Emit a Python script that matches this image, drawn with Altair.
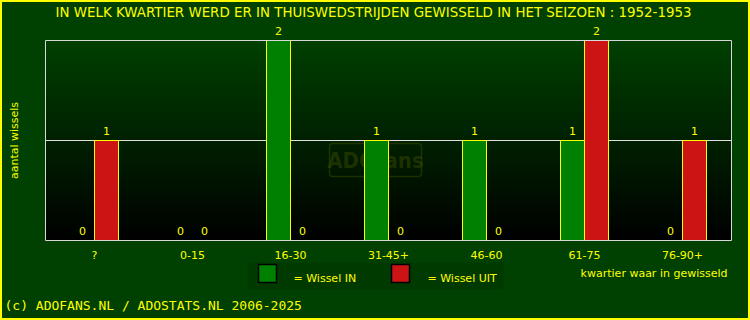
import altair as alt
import pandas as pd

categories = ["?", "0-15", "16-30", "31-45+", "46-60", "61-75", "76-90+"]
wissel_in = [0, 0, 2, 1, 1, 1, 0]
wissel_uit = [1, 0, 0, 0, 0, 2, 1]
series_names = ["IN", "UIT"]
y_ticks = [0, 1, 2]

rows = []
for c, a, b in zip(categories, wissel_in, wissel_uit):
    rows.append({"kwartier": c, "series": "IN", "value": a})
    rows.append({"kwartier": c, "series": "UIT", "value": b})
df = pd.DataFrame(rows)

W, H = 686, 200
YEL = "#ffff00"
FONT = "DejaVu Sans"

x_enc = alt.X("kwartier:N", sort=categories,
              scale=alt.Scale(paddingInner=0, paddingOuter=0),
              axis=alt.Axis(title=None, labelColor=YEL, labelFontSize=11, labelFont=FONT,
                            ticks=False, domain=False, labelPadding=9, labelAngle=0))
y_scale = alt.Scale(domain=[0, 2], nice=False)
y_enc = alt.Y("value:Q", scale=y_scale,
              axis=alt.Axis(title=None, values=y_ticks, format="d", labelColor=YEL,
                            labelFontSize=11, labelFont=FONT, ticks=False, domain=False,
                            grid=False, labelPadding=10))
xo = alt.XOffset("series:N", scale=alt.Scale(domain=["_a"] + series_names + ["_b"],
                                             paddingInner=0, paddingOuter=0.0417))

base = alt.Chart(df)

one = pd.DataFrame({"a": [0]})

frame = alt.Chart(one).mark_rect(
    fill=None, stroke=YEL, strokeWidth=2
).encode(x=alt.value(-44.5), x2=alt.value(703.5), y=alt.value(-39.5), y2=alt.value(278.5))

grad = alt.Chart(one).mark_rect(
    color=alt.Gradient(gradient="linear", x1=0, y1=0, x2=0, y2=1,
                       stops=[alt.GradientStop(color="#004000", offset=0),
                              alt.GradientStop(color="#000000", offset=1)])
).encode(x=alt.value(0), x2=alt.value(W), y=alt.value(0), y2=alt.value(H))

wm_box = alt.Chart(one).mark_rect(
    fill=None, stroke="#3a4a00", strokeWidth=1.5, cornerRadius=3, opacity=0.5
).encode(x=alt.value(284), x2=alt.value(376), y=alt.value(103), y2=alt.value(136))
wm_text = alt.Chart(pd.DataFrame({"t": ["ADOfans"]})).mark_text(
    font="DejaVu Sans Condensed", fontWeight="bold", fontSize=22, color="#3a4a00",
    opacity=0.5, align="center", baseline="middle"
).encode(x=alt.value(330), y=alt.value(120), text="t:N")

grid = alt.Chart(pd.DataFrame({"v": [1]})).mark_rule(color="#e0e0e0", strokeWidth=1).encode(
    y=alt.Y("v:Q", scale=y_scale, axis=None))

bars = base.transform_filter("datum.value > 0").mark_bar(stroke=YEL, strokeWidth=1, opacity=1).encode(
    x=x_enc, y=y_enc, xOffset=xo,
    color=alt.Color("series:N", scale=alt.Scale(domain=series_names,
                                                range=["#008000", "#cc1414"]), legend=None))

labels = base.mark_text(color=YEL, fontSize=11, font=FONT, baseline="bottom", dy=-4).encode(
    x=x_enc, y=y_enc, xOffset=xo, text=alt.Text("value:Q", format="d"))

border = alt.Chart(one).mark_rect(
    fill=None, stroke="#d8d8d8", strokeWidth=1
).encode(x=alt.value(0), x2=alt.value(W), y=alt.value(0), y2=alt.value(H))

title = alt.Chart(pd.DataFrame({"t": [
    "IN WELK KWARTIER WERD ER IN THUISWEDSTRIJDEN GEWISSELD IN HET SEIZOEN : 1952-1953"]})
).mark_text(color=YEL, fontSize=13.4, font=FONT, align="center", baseline="middle").encode(
    x=alt.value(328), y=alt.value(-28), text="t:N")

ytitle = alt.Chart(pd.DataFrame({"t": ["aantal wissels"]})).mark_text(
    color=YEL, fontSize=11, font=FONT, angle=270, align="center", baseline="middle"
).encode(x=alt.value(-31), y=alt.value(100), text="t:N")

xtitle = alt.Chart(pd.DataFrame({"t": ["kwartier waar in gewisseld"]})).mark_text(
    color=YEL, fontSize=11, font=FONT, align="right", baseline="middle"
).encode(x=alt.value(682), y=alt.value(233), text="t:N")

leg_bg = alt.Chart(one).mark_rect(fill="#003a00").encode(
    x=alt.value(202), x2=alt.value(458), y=alt.value(222), y2=alt.value(249))

leg_in = alt.Chart(one).mark_rect(
    fill="#008000", stroke="#000000", strokeWidth=1.5
).encode(x=alt.value(213), x2=alt.value(231), y=alt.value(224), y2=alt.value(242))
leg_uit = alt.Chart(one).mark_rect(
    fill="#cc1414", stroke="#000000", strokeWidth=1.5
).encode(x=alt.value(346), x2=alt.value(364), y=alt.value(224), y2=alt.value(242))

leg_text = alt.Chart(pd.DataFrame({"t": ["=  Wissel IN", "=  Wissel UIT"], "px": [248, 382]})).mark_text(
    color=YEL, fontSize=11, font=FONT, align="left", baseline="middle"
).encode(x=alt.X("px:Q", scale=None), y=alt.value(238), text="t:N")

copyright = alt.Chart(pd.DataFrame({"t": ["(c) ADOFANS.NL / ADOSTATS.NL 2006-2025"]})).mark_text(
    color=YEL, fontSize=13, font="DejaVu Sans Mono", align="left", baseline="middle"
).encode(x=alt.value(-41), y=alt.value(265), text="t:N")

chart = alt.layer(
    frame, grad, wm_box, wm_text, grid, bars, labels, border, title, ytitle, xtitle,
    leg_bg, leg_in, leg_uit, leg_text, copyright
).properties(
    width=W, height=H,
    autosize=alt.AutoSizeParams(type="none"),
    padding={"left": 45.5, "top": 40.5, "right": 18.5, "bottom": 79.5},
    background="#004000",
).configure_view(stroke=None)

chart.save("out.html", embed_options={"renderer": "svg", "actions": False})
